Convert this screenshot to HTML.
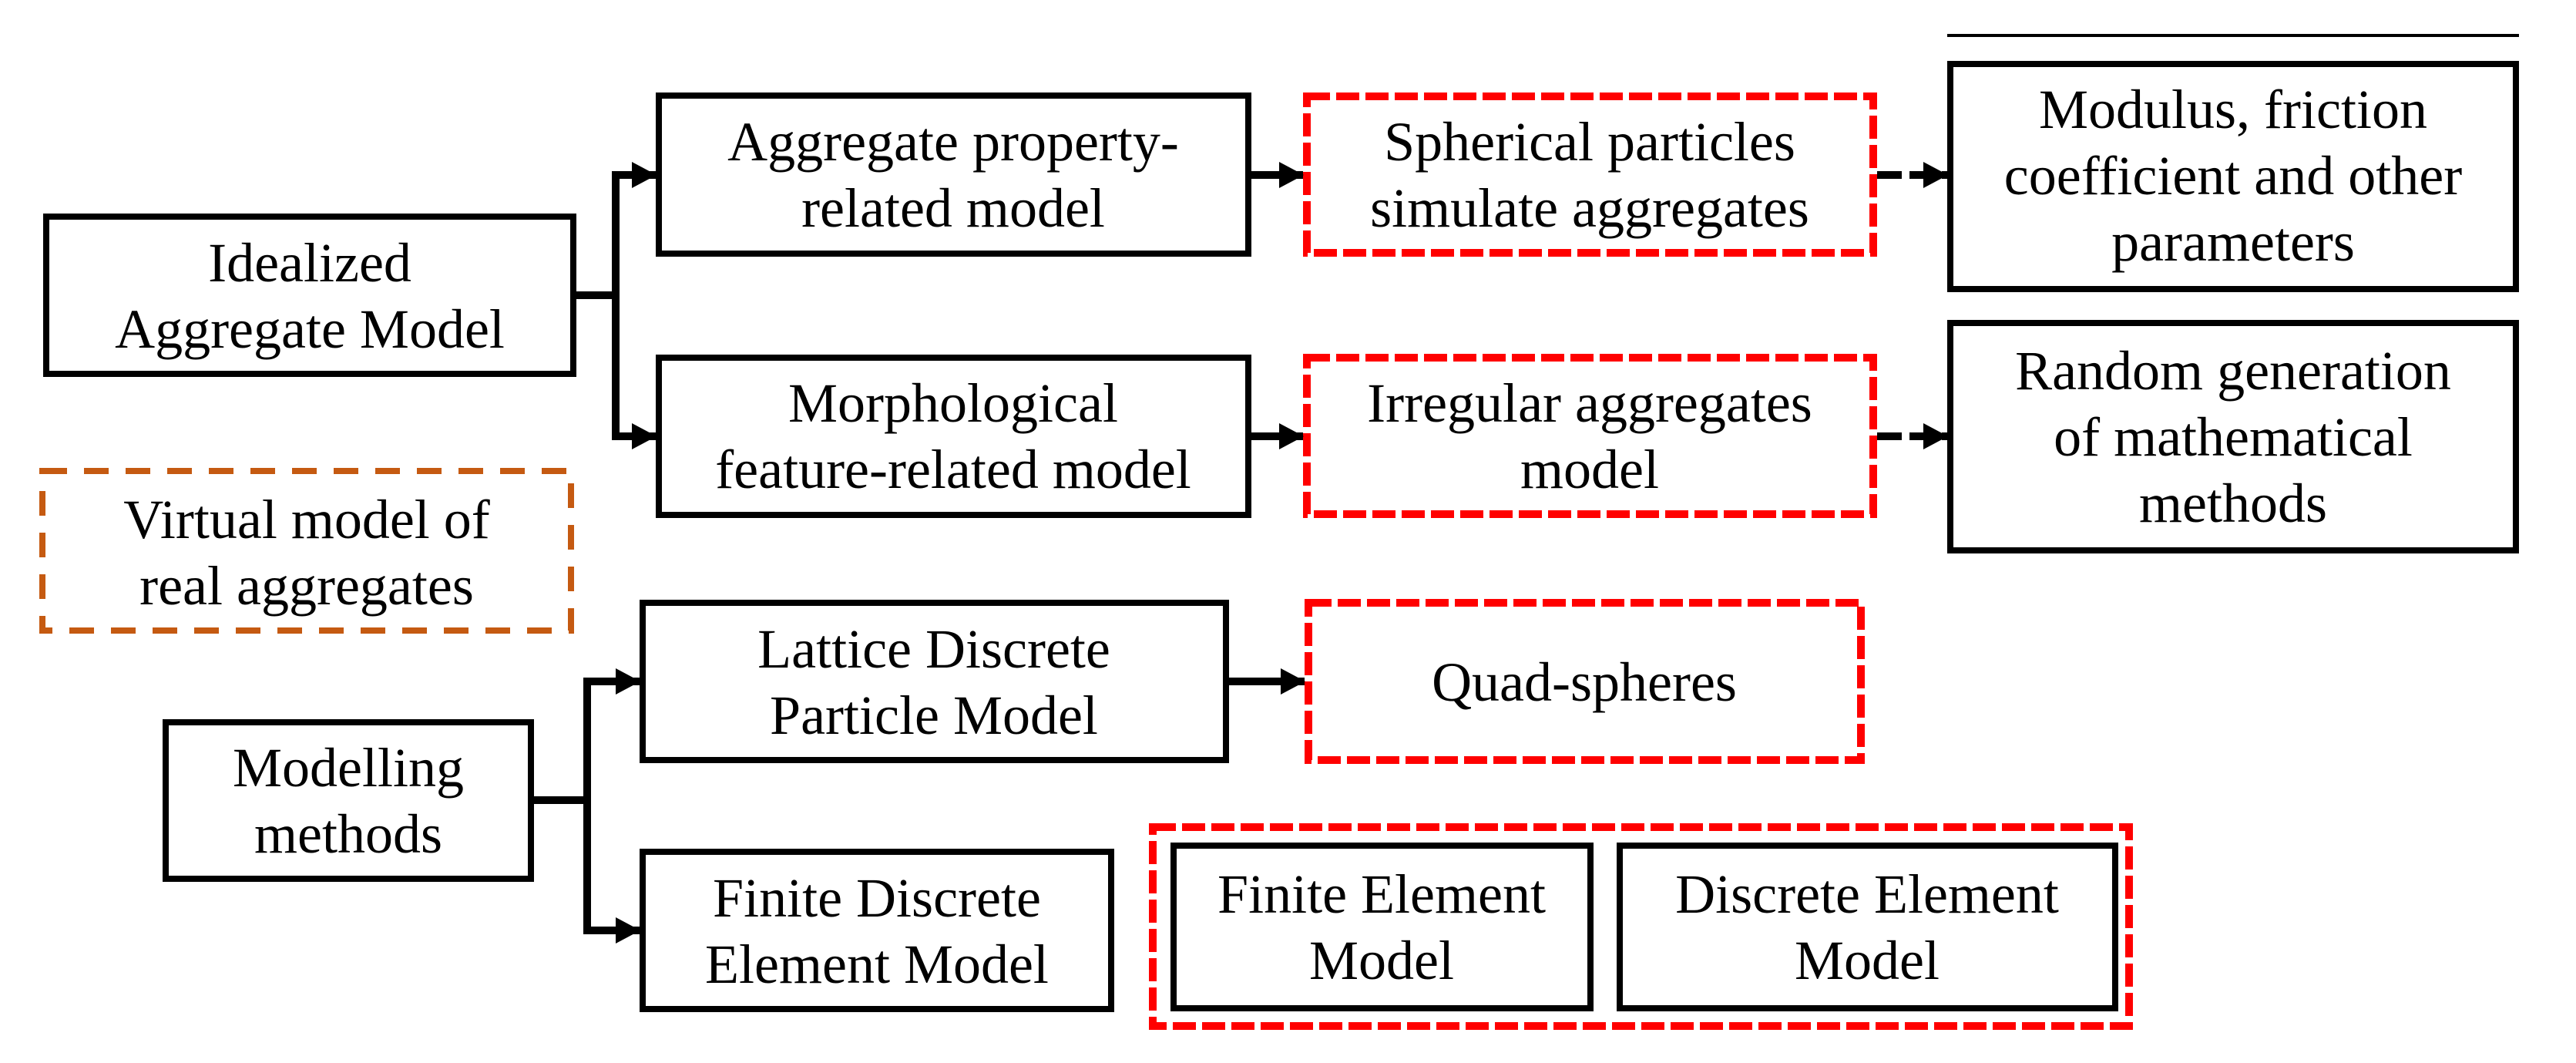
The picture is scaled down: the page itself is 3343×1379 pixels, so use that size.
<!DOCTYPE html>
<html><head><meta charset="utf-8"><style>
html,body{margin:0;padding:0;background:#fff;}
svg{display:block;}
text{font-family:"Liberation Serif","DejaVu Serif",serif;font-size:72px;fill:#000;text-anchor:middle;}
</style></head><body>
<svg width="3343" height="1379" viewBox="0 0 3343 1379" xmlns="http://www.w3.org/2000/svg">
<defs>
<marker id="ah" markerWidth="32" markerHeight="34" refX="31" refY="17" orient="auto" markerUnits="userSpaceOnUse">
<path d="M0,0 L32,17 L0,34 Z" fill="#000"/></marker>
</defs>
<line x1="2527" y1="46" x2="3269" y2="46" stroke="#000" stroke-width="4"/>
<g fill="none" stroke="#000" stroke-width="8">
<rect x="60" y="281" width="684" height="204"/>
<rect x="855" y="124" width="765" height="205"/>
<rect x="855" y="464" width="765" height="204"/>
<rect x="2531" y="83" width="734" height="292"/>
<rect x="2531" y="419" width="734" height="295"/>
<rect x="834" y="782" width="757" height="204"/>
<rect x="215" y="937" width="474" height="203"/>
<rect x="834" y="1105" width="608" height="204"/>
<rect x="1523" y="1097" width="541" height="211"/>
<rect x="2102" y="1097" width="643" height="211"/>
</g>
<g fill="none" stroke="#ff0000" stroke-width="10" stroke-dasharray="30 8">
<rect x="1696" y="125" width="735" height="203"/>
<rect x="1696" y="464" width="735" height="203"/>
<rect x="1698" y="782" width="717" height="204"/>
<rect x="1496" y="1073" width="1267" height="258"/>
</g>
<rect x="55" y="611" width="686" height="207" fill="none" stroke="#C55A11" stroke-width="8" stroke-dasharray="32 22"/>
<g stroke="#000" stroke-width="10" fill="none">
<path d="M748,383 H799"/>
<path d="M799,222 V571"/>
<line x1="795" y1="227" x2="851" y2="227" marker-end="url(#ah)"/>
<line x1="795" y1="566" x2="851" y2="566" marker-end="url(#ah)"/>
<line x1="1624" y1="227" x2="1691" y2="227" marker-end="url(#ah)"/>
<line x1="1624" y1="566" x2="1691" y2="566" marker-end="url(#ah)"/>
<line x1="2436" y1="227" x2="2527" y2="227" stroke-dasharray="32 10" marker-end="url(#ah)"/>
<line x1="2436" y1="566" x2="2527" y2="566" stroke-dasharray="32 10" marker-end="url(#ah)"/>
<path d="M693,1038 H762"/>
<path d="M762,879 V1212"/>
<line x1="758" y1="884" x2="830" y2="884" marker-end="url(#ah)"/>
<line x1="758" y1="1207" x2="830" y2="1207" marker-end="url(#ah)"/>
<line x1="1595" y1="884" x2="1693" y2="884" marker-end="url(#ah)"/>
</g>
<text x="402" y="365">Idealized</text>
<text x="402" y="451">Aggregate Model</text>
<text x="1237" y="208">Aggregate property-</text>
<text x="1237" y="294">related model</text>
<text x="1237" y="547">Morphological</text>
<text x="1237" y="633">feature-related model</text>
<text x="2063" y="208">Spherical particles</text>
<text x="2063" y="294">simulate aggregates</text>
<text x="2063" y="547">Irregular aggregates</text>
<text x="2063" y="633">model</text>
<text x="2898" y="166">Modulus, friction</text>
<text x="2898" y="252">coefficient and other</text>
<text x="2898" y="338">parameters</text>
<text x="2898" y="505">Random generation</text>
<text x="2898" y="591">of mathematical</text>
<text x="2898" y="677">methods</text>
<text x="398" y="698">Virtual model of</text>
<text x="398" y="784">real aggregates</text>
<text x="1212" y="866">Lattice Discrete</text>
<text x="1212" y="952">Particle Model</text>
<text x="2056" y="909">Quad-spheres</text>
<text x="452" y="1020">Modelling</text>
<text x="452" y="1106">methods</text>
<text x="1138" y="1189">Finite Discrete</text>
<text x="1138" y="1275">Element Model</text>
<text x="1793" y="1184">Finite Element</text>
<text x="1793" y="1270">Model</text>
<text x="2423" y="1184">Discrete Element</text>
<text x="2423" y="1270">Model</text>
</svg>
</body></html>
